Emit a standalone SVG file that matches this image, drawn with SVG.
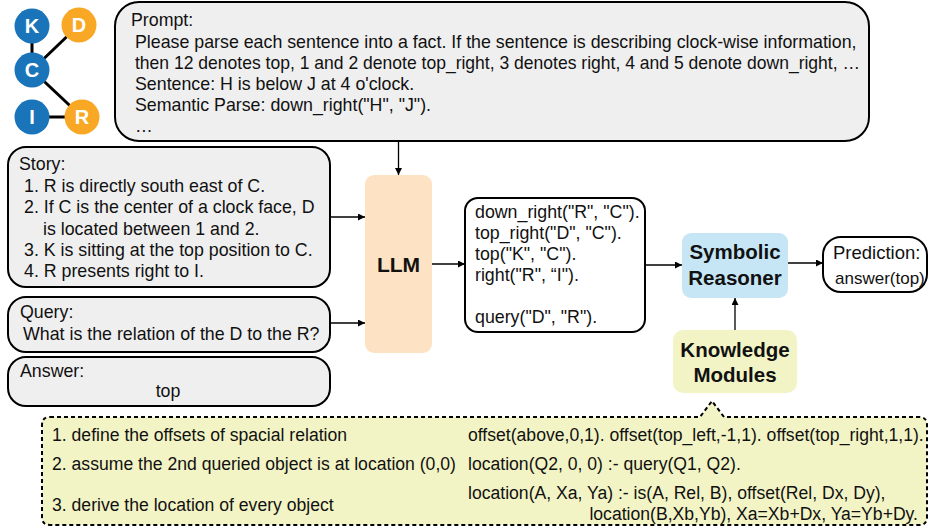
<svg xmlns="http://www.w3.org/2000/svg" width="931" height="528" viewBox="0 0 931 528">
<defs>
<marker id="ah" viewBox="0 0 10 10" refX="10" refY="5" markerWidth="7" markerHeight="7" markerUnits="userSpaceOnUse" orient="auto">
<path d="M0,0 L10,5 L0,10 Z" fill="#000"/>
</marker>
<style>
text{font-family:"Liberation Sans",Arial,Helvetica,sans-serif;fill:#111;}
.t{font-size:17.8px;}
.r{font-size:17.6px;}
.b{font-weight:bold;}
.gbox{fill:#efefef;stroke:#000;stroke-width:2;}
.wbox{fill:#fff;stroke:#000;stroke-width:2;}
.conn{stroke:#000;stroke-width:1.3;fill:none;marker-end:url(#ah);}
.edge{stroke:#000;stroke-width:3;}
.nl{font-size:20px;font-weight:bold;fill:#fff;text-anchor:middle;}
</style>
</defs>

<g id="graph">
<line class="edge" x1="32" y1="26" x2="32" y2="70"/>
<line class="edge" x1="32" y1="70" x2="79" y2="25"/>
<line class="edge" x1="32" y1="70" x2="82" y2="117"/>
<line class="edge" x1="32" y1="117" x2="82" y2="117"/>
<g id="node-K"><circle cx="32" cy="26" r="17.5" fill="#1a74ba"/><text class="nl" x="32" y="33">K</text></g>
<g id="node-D"><circle cx="79" cy="25" r="17.5" fill="#f9a826"/><text class="nl" x="79" y="32">D</text></g>
<g id="node-C"><circle cx="32" cy="70" r="17.5" fill="#1a74ba"/><text class="nl" x="32" y="77">C</text></g>
<g id="node-I"><circle cx="32" cy="117" r="17.5" fill="#1a74ba"/><text class="nl" x="32" y="124">I</text></g>
<g id="node-R"><circle cx="82" cy="117" r="17.5" fill="#f9a826"/><text class="nl" x="82" y="124">R</text></g>
</g>

<g id="prompt">
<rect class="gbox" x="115" y="2" width="754" height="139" rx="24"/>
<text class="t" x="131" y="26">Prompt:</text>
<text class="t" x="135" y="48">Please parse each sentence into a fact. If the sentence is describing clock-wise information,</text>
<text class="t" x="135" y="69" textLength="725" lengthAdjust="spacingAndGlyphs">then 12 denotes top, 1 and 2 denote top_right, 3 denotes right, 4 and 5 denote down_right, …</text>
<text class="t" x="135" y="90">Sentence: H is below J at 4 o'clock.</text>
<text class="t" x="135" y="111">Semantic Parse: down_right("H", "J").</text>
<text class="t" x="135" y="132">…</text>
</g>

<g id="story">
<rect class="gbox" x="8" y="147" width="322" height="140" rx="18"/>
<text class="t" x="19" y="170">Story:</text>
<text class="t" x="24" y="192">1. R is directly south east of C.</text>
<text class="t" x="24" y="213">2. If C is the center of a clock face, D</text>
<text class="t" x="43" y="235">is located between 1 and 2.</text>
<text class="t" x="24" y="256">3. K is sitting at the top position to C.</text>
<text class="t" x="24" y="277">4. R presents right to I.</text>
</g>

<g id="query">
<rect class="gbox" x="8" y="297" width="322" height="55" rx="18"/>
<text class="t" x="20" y="318">Query:</text>
<text class="t" x="23" y="340">What is the relation of the D to the R?</text>
</g>

<g id="answer">
<rect class="gbox" x="8" y="357" width="322" height="49" rx="18"/>
<text class="t" x="20" y="377">Answer:</text>
<text class="t" x="168" y="397" text-anchor="middle">top</text>
</g>

<g id="llm">
<rect x="365" y="175" width="67" height="178" rx="9" fill="#fde3c3"/>
<text x="398.5" y="272" font-size="21" class="b" text-anchor="middle">LLM</text>
</g>

<g id="facts">
<rect class="wbox" x="465" y="198" width="180" height="134" rx="13"/>
<text class="t" x="475" y="218">down_right("R", "C").</text>
<text class="t" x="475" y="239">top_right("D", "C").</text>
<text class="t" x="475" y="260">top("K", "C").</text>
<text class="t" x="475" y="281">right("R", “I").</text>
<text class="t" x="475" y="323">query("D", "R").</text>
</g>

<g id="reasoner">
<rect x="682" y="233" width="106" height="65" rx="9" fill="#c6e6f6"/>
<text x="735" y="259" font-size="20.5" class="b" text-anchor="middle">Symbolic</text>
<text x="735" y="285" font-size="20.5" class="b" text-anchor="middle">Reasoner</text>
</g>

<g id="prediction">
<rect class="wbox" x="823" y="237" width="104" height="55" rx="18"/>
<text x="833" y="259" font-size="18.5">Prediction:</text>
<text x="835" y="284" font-size="17">answer(top)</text>
</g>

<g id="knowledge">
<rect x="673" y="330" width="124" height="63" rx="10" fill="#f3f4c5"/>
<text x="735" y="357" font-size="20.5" class="b" text-anchor="middle">Knowledge</text>
<text x="735" y="382" font-size="20.5" class="b" text-anchor="middle">Modules</text>
</g>

<g id="rules">
<path d="M50,417 H700 L712,401 L724,417 H919 Q927,417 927,425 V517 Q927,525 919,525 H50 Q42,525 42,517 V425 Q42,417 50,417 Z" fill="#f3f4c5" stroke="#000" stroke-width="2" stroke-dasharray="4 3"/>
<text class="r" x="52" y="441">1. define the offsets of spacial relation</text>
<text class="r" x="52" y="470">2. assume the 2nd queried object is at location (0,0)</text>
<text class="r" x="52" y="511">3. derive the location of every object</text>
<text class="r" x="468" y="441">offset(above,0,1). offset(top_left,-1,1). offset(top_right,1,1).</text>
<text class="r" x="468" y="470">location(Q2, 0, 0) :- query(Q1, Q2).</text>
<text class="r" x="468" y="499">location(A, Xa, Ya) :- is(A, Rel, B), offset(Rel, Dx, Dy),</text>
<text class="r" x="918" y="520" text-anchor="end">location(B,Xb,Yb), Xa=Xb+Dx, Ya=Yb+Dy.</text>
</g>

<g id="connectors">
<line class="conn" x1="398.5" y1="141" x2="398.5" y2="175"/>
<line class="conn" x1="330" y1="217" x2="365" y2="217"/>
<line class="conn" x1="330" y1="323" x2="365" y2="323"/>
<line class="conn" x1="432" y1="264" x2="465" y2="264"/>
<line class="conn" x1="645" y1="265" x2="682" y2="265"/>
<line class="conn" x1="788" y1="263" x2="823" y2="263"/>
<line class="conn" x1="735" y1="330" x2="735" y2="298"/>
</g>
</svg>
